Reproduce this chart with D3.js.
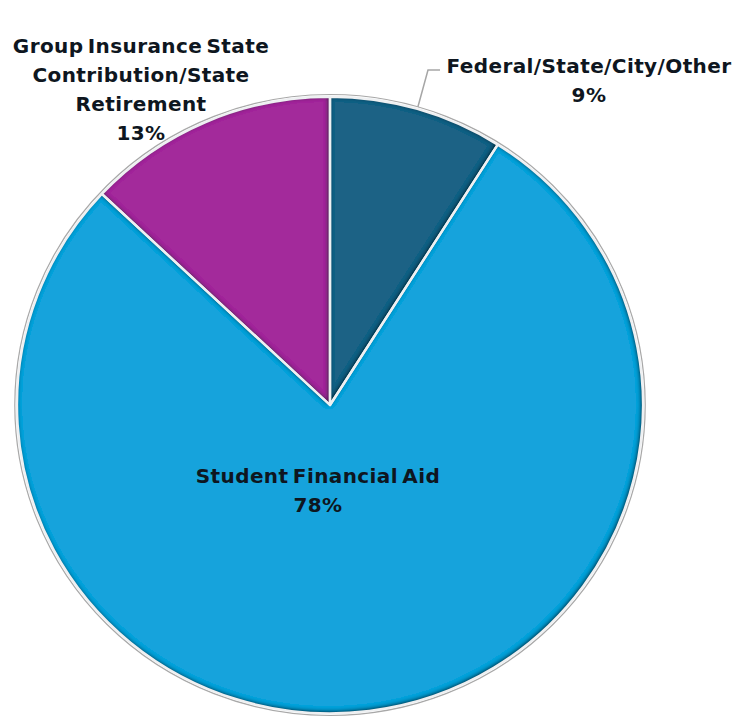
<!DOCTYPE html>
<html>
<head>
<meta charset="utf-8">
<script src="https://cdn.jsdelivr.net/npm/d3@7"></script>
<style>
  html, body { margin: 0; padding: 0; background: #ffffff; }
  svg { display: block; }
  .lbl { font-family: "DejaVu Sans", Lato, sans-serif; font-weight: 700; fill: #0e1620; }
</style>
</head>
<body>
<svg id="chart" width="740" height="717"></svg>
<script>
// Revenue shares, clockwise from 12 o'clock
const categories = ["Federal/State/City/Other", "Student Financial Aid", "Group Insurance State Contribution/State Retirement"];
const shares = [9, 78, 13];
const colors = ["#1a6285", "#13a3dc", "#a32a9b"];
// Wrapped label lines per slice
const labelLines = [
  ["Federal/State/City/Other"],
  ["Student Financial Aid"],
  ["Group Insurance State", "Contribution/State", "Retirement"]
];

const W = 740, H = 717;
const cx = 330, cy = 405, R = 313, squash = 0.985;

const svg = d3.select("#chart");
const defs = svg.append("defs");

// Soft inner edge shading for the slices, heavier toward the lower right
const f = defs.append("filter").attr("id", "inner").attr("x", "-5%").attr("y", "-5%").attr("width", "110%").attr("height", "110%");
f.append("feGaussianBlur").attr("in", "SourceAlpha").attr("stdDeviation", 2.5).attr("result", "blur");
f.append("feOffset").attr("in", "blur").attr("dx", -1).attr("dy", -1).attr("result", "off");
f.append("feComposite").attr("in", "SourceAlpha").attr("in2", "off").attr("operator", "arithmetic")
  .attr("k2", 1).attr("k3", -1).attr("result", "edge");
f.append("feFlood").attr("flood-color", "#08202e").attr("flood-opacity", 1).attr("result", "col");
f.append("feComposite").attr("in", "col").attr("in2", "edge").attr("operator", "in").attr("result", "shade");
const m = f.append("feMerge");
m.append("feMergeNode").attr("in", "SourceGraphic");
m.append("feMergeNode").attr("in", "shade");
m.append("feMergeNode").attr("in", "shade");

const pie = d3.pie().sort(null).value(d => d)(shares);
const arc = d3.arc().innerRadius(0).outerRadius(R);

const g = svg.append("g").attr("transform", `translate(${cx},${cy}) scale(1,${squash})`);

// thin grey rim around the pie
g.append("circle").attr("r", R + 2.2).attr("fill", "none").attr("stroke", "#a8a8a8").attr("stroke-width", 1.2);

g.selectAll("path.slice").data(pie).join("path")
  .attr("class", "slice")
  .attr("d", arc)
  .attr("fill", (d, i) => colors[i])
  .attr("filter", "url(#inner)");

g.selectAll("path.edge").data(pie).join("path")
  .attr("class", "edge")
  .attr("d", arc)
  .attr("fill", "none")
  .attr("stroke", "#eef0f2")
  .attr("stroke-width", 2.4)
  .attr("stroke-linejoin", "round");

// Leader line for the small slice
const p0 = pie[0];
const mid = (p0.startAngle + p0.endAngle) / 2;
const ex = cx + Math.sin(mid) * (R + 2), ey = cy - Math.cos(mid) * (R + 2) * squash;
svg.append("path")
  .attr("d", `M${ex},${ey} L428,70 L440,70`)
  .attr("fill", "none").attr("stroke", "#a6a6a6").attr("stroke-width", 1.5);

// Label placement (anchor centre x, first baseline y)
const labelPos = [
  { x: 589, y: 73 },
  { x: 318, y: 483 },
  { x: 141, y: 53 }
];
const lineH = 29;
const fmt = v => v + "%";

labelPos.forEach((p, i) => {
  const t = svg.append("text").attr("class", "lbl")
    .attr("text-anchor", "middle").attr("font-size", 20)
    .attr("letter-spacing", 0.4)
    .attr("word-spacing", -3);
  const lines = labelLines[i].concat([fmt(shares[i])]);
  lines.forEach((ln, j) => {
    t.append("tspan").attr("x", p.x).attr("y", p.y + j * lineH).text(ln);
  });
});
</script>
</body>
</html>
